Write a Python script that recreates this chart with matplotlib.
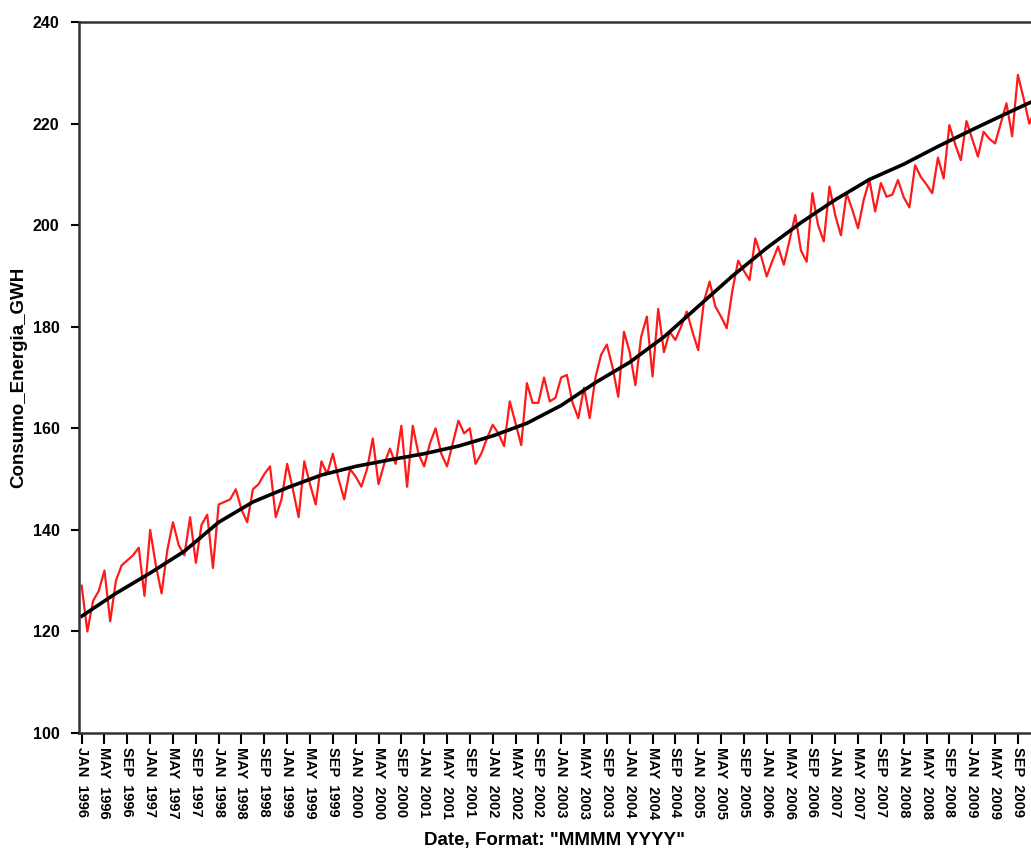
import numpy as np
import matplotlib.pyplot as plt

plt.rcParams['font.family'] = ['Liberation Sans', 'DejaVu Sans']

# monthly consumption (GWh), one list per year
y1996 = [129, 120, 126, 128, 132, 122, 130, 133, 134, 135, 136.5, 127]
y1997 = [140, 133, 127.5, 136, 141.5, 137, 135, 142.5, 133.5, 141, 143, 132.5]
y1998 = [145, 145.5, 146, 148, 144, 141.5, 148, 149, 151, 152.5, 142.5, 146]
y1999 = [153, 148, 142.5, 153.5, 149, 145, 153.5, 151, 155, 150, 146, 152]
y2000 = [150.5, 148.5, 152, 158, 149, 153, 156, 153, 160.5, 148.5, 160.5, 155]
y2001 = [152.5, 157, 160, 155, 152.5, 157, 161.5, 159, 160, 153, 155, 158]
y2002 = [160.7, 159, 156.5, 165.3, 161, 156.7, 168.9, 165, 165, 170, 165.3, 166]
y2003 = [170, 170.5, 165, 162, 168, 162, 170, 174.5, 176.5, 172, 166.2, 179]
y2004 = [175, 168.5, 178, 182, 170.2, 183.5, 175, 179, 177.4, 180, 183, 179]
y2005 = [175.4, 185, 188.9, 184, 182, 179.7, 187.2, 193, 191, 189.2, 197.4, 194]
y2006 = [189.9, 193, 195.8, 192.2, 197, 202, 195, 192.8, 206.3, 200, 196.8, 207.6]
y2007 = [202, 198, 206.3, 203, 199.4, 205, 208.9, 202.7, 208.3, 205.6, 206, 208.9]
y2008 = [205.5, 203.5, 211.8, 209.5, 208, 206.3, 213.3, 209.2, 219.7, 216, 212.8, 220.5]
y2009 = [217, 213.5, 218.4, 217, 216.1, 220, 224, 217.5, 229.6, 225, 220, 222.7]

consumo = np.concatenate([y1996, y1997, y1998, y1999, y2000, y2001, y2002,
                          y2003, y2004, y2005, y2006, y2007, y2008, y2009])
meses = np.arange(len(consumo))

# fitted trend curve, read every 6 months
trend_mes = [0, 6, 12, 18, 24, 30, 36, 42, 48, 54, 60, 66, 72, 78, 84, 90,
             96, 102, 108, 114, 120, 126, 132, 138, 144, 150, 156, 162, 167]
trend_val = [123, 127.5, 131.5, 135.8, 141.5, 145.5, 148.3, 150.8, 152.5,
             153.8, 155, 156.5, 158.5, 161, 164.5, 169, 173, 178, 184, 190,
             195.5, 200.5, 205, 209, 212, 215.5, 218.8, 222, 224.6]

nombres = ['JAN', 'MAY', 'SEP']
tick_pos = np.arange(0, 168, 4)
tick_lab = [nombres[(p % 12) // 4] + '  ' + str(1996 + p // 12) for p in tick_pos]

fig = plt.figure(figsize=(10.31, 8.48), dpi=100)
ax = fig.add_axes([0.0766, 0.1356, 0.9234, 0.8384])

ax.plot(meses, consumo, color='#ff1a1a', lw=1.6)
ax.plot(trend_mes, trend_val, color='black', lw=2.6)

ax.set_xlim(-0.47, 166.3)
ax.set_ylim(100, 240)
ax.set_yticks(np.arange(100, 241, 20))
ax.set_xticks(tick_pos)
ax.set_xticklabels(tick_lab, rotation=-90, fontsize=10.5, fontweight='bold', va='top')
for t in ax.get_yticklabels():
    t.set_fontsize(11.5)
    t.set_fontweight('bold')

ax.tick_params(axis='x', direction='out', length=8, width=1.5, pad=2)
ax.tick_params(axis='y', direction='out', length=6, width=1.5, pad=8)

for s in ['left', 'bottom', 'top']:
    ax.spines[s].set_color('#333333')
    ax.spines[s].set_linewidth(1.8)
ax.spines['right'].set_visible(False)

ax.set_ylabel('Consumo_Energia_GWH', fontsize=13.5, fontweight='bold', va='center')
ax.yaxis.set_label_coords(-0.063, 0.5)
ax.set_xlabel('Date, Format: "MMMM YYYY"', fontsize=13.5, fontweight='bold', va='center')
ax.xaxis.set_label_coords(0.5, -0.1505)

fig.savefig('out.png', dpi=100)
